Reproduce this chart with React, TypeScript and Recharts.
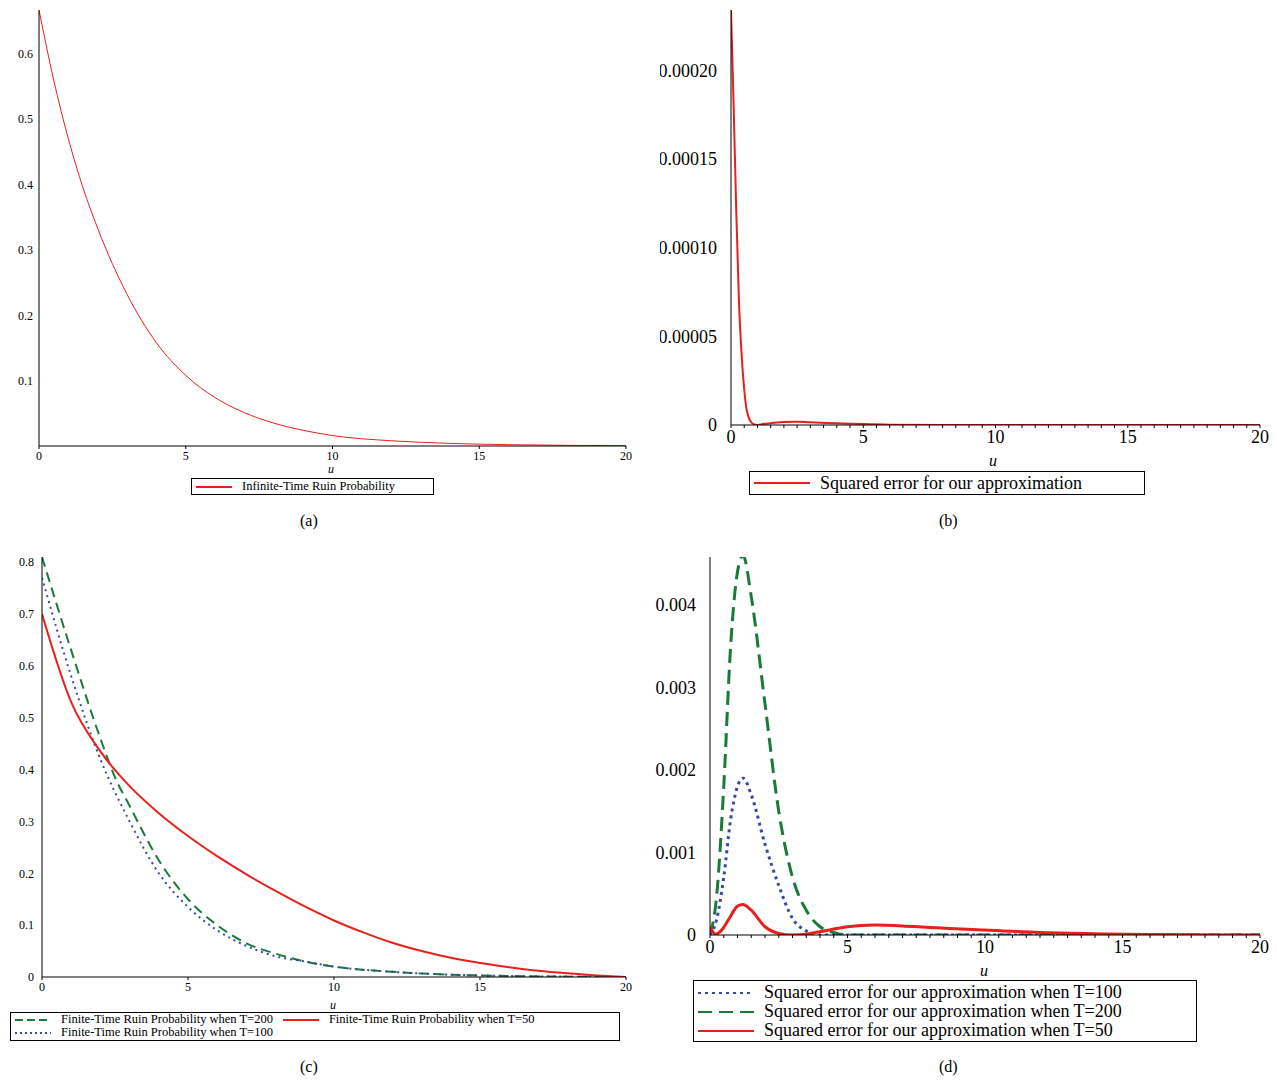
import React from 'react';
import { LineChart, Line, XAxis, YAxis } from 'recharts';

const aU = [0, 0.5, 1, 1.5, 2, 3, 4, 5, 6, 7, 8, 9, 10, 12, 14, 16, 18, 20];
const aV = [0.667, 0.56, 0.47, 0.395, 0.333, 0.232, 0.158, 0.108, 0.074, 0.051, 0.035, 0.024, 0.016, 0.008, 0.004, 0.002, 0.001, 0.0005];

const bU = [0, 0.1, 0.2, 0.3, 0.4, 0.5, 0.6, 0.8, 1.0, 1.2, 1.5, 2, 2.5, 3, 4, 5, 6, 8, 10, 20];
const bV = [0.000234, 0.00018, 0.00012, 0.00007, 0.00004, 0.00002, 0.000008, 0.000001, 0, 0.0000005, 0.000001, 0.0000017, 0.0000018, 0.0000015, 0.000001, 0.0000005, 0.0000002, 0.00000005, 0, 0];

const cU200 = [0, 1, 2, 2.5, 3, 4, 5, 6, 7, 8, 9, 10, 12, 15, 20];
const cV200 = [0.81, 0.63, 0.46, 0.385, 0.33, 0.225, 0.15, 0.1, 0.065, 0.045, 0.03, 0.02, 0.01, 0.003, 0];
const cU100 = [0, 1, 2, 3, 4, 5, 6, 7, 8, 9, 10, 12, 15, 20];
const cV100 = [0.77, 0.58, 0.42, 0.3, 0.2, 0.135, 0.09, 0.06, 0.04, 0.03, 0.02, 0.01, 0.003, 0];
const cU50 = [0, 1, 2, 3, 4, 5, 6, 7, 8, 9, 10, 11, 12, 13, 14, 15, 16, 17, 18, 19, 20];
const cV50 = [0.70, 0.53, 0.435, 0.368, 0.316, 0.272, 0.233, 0.198, 0.166, 0.136, 0.109, 0.086, 0.066, 0.05, 0.037, 0.027, 0.019, 0.012, 0.007, 0.003, 0];

const dU200 = [0, 0.25, 0.5, 0.75, 1, 1.2, 1.5, 2, 2.5, 3, 3.5, 4, 4.5, 5, 20];
const dV200 = [0, 0.0005, 0.0018, 0.0035, 0.0044, 0.0046, 0.0041, 0.0028, 0.0015, 0.0007, 0.0003, 0.0001, 0.00003, 0, 0];
const dU100 = [0, 0.25, 0.5, 0.75, 1, 1.2, 1.5, 2, 2.5, 3, 3.5, 4, 20];
const dV100 = [0, 0.0002, 0.0007, 0.0014, 0.0018, 0.0019, 0.0017, 0.0011, 0.0006, 0.0002, 0.00005, 0, 0];
const dU50 = [0, 0.2, 0.4, 0.7, 1, 1.2, 1.5, 2, 2.5, 3, 3.5, 4, 5, 6, 7, 8, 10, 12, 14, 16, 20];
const dV50 = [0.0001, 0.00001, 0.00005, 0.0002, 0.00035, 0.00037, 0.0003, 0.0001, 0.00002, 0, 0.00001, 0.00004, 0.0001, 0.00012, 0.00011, 0.00009, 0.00006, 0.00003, 0.000015, 0.000005, 0];

const xTicks = [0, 5, 10, 15, 20];
const minorX = Array.from({ length: 41 }, (_, i) => i * 0.5);

const zip = (u: number[], v: number[]) => u.map((x, i) => ({ u: x, v: v[i] }));
const serif = '"Liberation Serif", "DejaVu Serif", serif';

const abs = (l: number, t: number): React.CSSProperties => ({ position: 'absolute', left: l, top: t });

function LegendRow({ color, dash, text, w }: { color: string; dash?: string; text: string; w: number }) {
  return (
    <div style={{ display: 'flex', alignItems: 'center', whiteSpace: 'nowrap' }}>
      <svg width={w} height={10} style={{ marginRight: 8 }}>
        <line x1={2} y1={5} x2={w - 2} y2={5} stroke={color} strokeWidth={2} strokeDasharray={dash} />
      </svg>
      {text}
    </div>
  );
}

export default function App() {
  const tickSmall = { fontSize: 12, fontFamily: serif, fill: '#000' };
  const tickBig = { fontSize: 18, fontFamily: serif, fill: '#000' };
  const st = { fontFamily: serif };
  return (
    <div style={{ position: 'absolute', left: 0, top: 0, width: 1277, height: 1081, background: '#fff', fontFamily: serif }}>
      {/* (a) */}
      <div style={abs(0, 0)}>
        <LineChart style={st} width={640} height={470} margin={{ top: 10, right: 14, left: 0, bottom: 0 }}>
          <XAxis type="number" dataKey="u" domain={[0, 20]} ticks={xTicks} height={24} tick={tickSmall} stroke="#000" tickSize={3} allowDataOverflow />
          <YAxis type="number" domain={[0, 0.667]} ticks={[0.1, 0.2, 0.3, 0.4, 0.5, 0.6]} width={39} tick={tickSmall} stroke="#000" tickSize={0} tickMargin={6} allowDataOverflow />
          <Line data={zip(aU, aV)} dataKey="v" type="monotone" stroke="#e8201c" strokeWidth={1} dot={false} isAnimationActive={false} />
        </LineChart>
      </div>
      <div style={{ ...abs(328, 462), fontSize: 12, fontStyle: 'italic' }}>u</div>
      <div style={{ ...abs(191, 478), width: 239, height: 15, border: '1px solid #000', fontSize: 12.5, display: 'flex', alignItems: 'center', paddingLeft: 2 }}>
        <LegendRow color="#e8201c" text="Infinite-Time Ruin Probability" w={40} />
      </div>
      <div style={{ ...abs(300, 512), fontSize: 16 }}>(a)</div>

      {/* (b) */}
      <div style={abs(660, 0)}>
        <LineChart style={st} width={617} height={450} margin={{ top: 10, right: 17, left: 0, bottom: 0 }}>
          <XAxis type="number" dataKey="u" domain={[0, 20]} ticks={minorX} tickFormatter={(v: number) => (v % 5 === 0 ? String(v) : '')} height={25} tick={tickBig} stroke="#000" tickSize={3} interval={0} allowDataOverflow />
          <YAxis type="number" domain={[0, 0.000234]} ticks={[0, 0.00005, 0.0001, 0.00015, 0.0002]} tickFormatter={(v: number) => (v === 0 ? '0' : v.toFixed(5))} width={71} tick={tickBig} stroke="#000" tickSize={0} tickMargin={14} allowDataOverflow />
          <Line data={zip(bU, bV)} dataKey="v" type="monotone" stroke="#e8201c" strokeWidth={2} dot={false} isAnimationActive={false} />
        </LineChart>
      </div>
      <div style={{ ...abs(989, 452), fontSize: 16, fontStyle: 'italic' }}>u</div>
      <div style={{ ...abs(749, 471), width: 392, height: 22, border: '1px solid #000', fontSize: 18, display: 'flex', alignItems: 'center', paddingLeft: 2 }}>
        <LegendRow color="#e8201c" text="Squared error for our approximation" w={60} />
      </div>
      <div style={{ ...abs(939, 512), fontSize: 16 }}>(b)</div>

      {/* (c) */}
      <div style={abs(0, 540)}>
        <LineChart style={st} width={640} height={460} margin={{ top: 17, right: 14, left: 0, bottom: 0 }}>
          <XAxis type="number" dataKey="u" domain={[0, 20]} ticks={xTicks} height={23} tick={tickSmall} stroke="#000" tickSize={3} allowDataOverflow />
          <YAxis type="number" domain={[0, 0.81]} ticks={[0, 0.1, 0.2, 0.3, 0.4, 0.5, 0.6, 0.7, 0.8]} width={42} tick={tickSmall} stroke="#000" tickSize={0} tickMargin={8} allowDataOverflow />
          <Line data={zip(cU200, cV200)} dataKey="v" type="monotone" stroke="#1a7a3c" strokeWidth={2} strokeDasharray="10 6" dot={false} isAnimationActive={false} />
          <Line data={zip(cU100, cV100)} dataKey="v" type="monotone" stroke="#3b4a9c" strokeWidth={2} strokeDasharray="2 4" dot={false} isAnimationActive={false} />
          <Line data={zip(cU50, cV50)} dataKey="v" type="monotone" stroke="#e8201c" strokeWidth={2} dot={false} isAnimationActive={false} />
        </LineChart>
      </div>
      <div style={{ ...abs(330, 998), fontSize: 12, fontStyle: 'italic' }}>u</div>
      <div style={{ ...abs(10, 1012), width: 606, height: 27, border: '1px solid #000', fontSize: 12.5, lineHeight: '13px', paddingLeft: 2 }}>
        <div style={{ display: 'flex' }}>
          <LegendRow color="#1a7a3c" dash="8 4" text="Finite-Time Ruin Probability when T=200" w={40} />
          <div style={{ width: 8 }} />
          <LegendRow color="#e8201c" text="Finite-Time Ruin Probability when T=50" w={40} />
        </div>
        <LegendRow color="#3b4a9c" dash="2 3" text="Finite-Time Ruin Probability when T=100" w={40} />
      </div>
      <div style={{ ...abs(300, 1058), fontSize: 16 }}>(c)</div>

      {/* (d) */}
      <div style={abs(640, 540)}>
        <LineChart style={st} width={637} height={420} margin={{ top: 17, right: 17, left: 0, bottom: 0 }}>
          <XAxis type="number" dataKey="u" domain={[0, 20]} ticks={minorX} tickFormatter={(v: number) => (v % 5 === 0 ? String(v) : '')} height={25} tick={tickBig} stroke="#000" tickSize={3} interval={0} allowDataOverflow />
          <YAxis type="number" domain={[0, 0.00458]} ticks={[0, 0.001, 0.002, 0.003, 0.004]} tickFormatter={(v: number) => (v === 0 ? '0' : v.toFixed(3))} width={70} tick={tickBig} stroke="#000" tickSize={0} tickMargin={14} allowDataOverflow />
          <Line data={zip(dU200, dV200)} dataKey="v" type="monotone" stroke="#1a7a3c" strokeWidth={3} strokeDasharray="14 7" dot={false} isAnimationActive={false} />
          <Line data={zip(dU100, dV100)} dataKey="v" type="monotone" stroke="#3b4a9c" strokeWidth={3} strokeDasharray="3 4" dot={false} isAnimationActive={false} />
          <Line data={zip(dU50, dV50)} dataKey="v" type="monotone" stroke="#e8201c" strokeWidth={3} dot={false} isAnimationActive={false} />
        </LineChart>
      </div>
      <div style={{ ...abs(980, 962), fontSize: 16, fontStyle: 'italic' }}>u</div>
      <div style={{ ...abs(693, 980), width: 504, height: 62, border: '1px solid #000', fontSize: 18, lineHeight: '19px', paddingLeft: 2, paddingTop: 2, boxSizing: 'border-box' }}>
        <LegendRow color="#3b4a9c" dash="3 4" text="Squared error for our approximation when T=100" w={60} />
        <LegendRow color="#1a7a3c" dash="14 7" text="Squared error for our approximation when T=200" w={60} />
        <LegendRow color="#e8201c" text="Squared error for our approximation when T=50" w={60} />
      </div>
      <div style={{ ...abs(939, 1058), fontSize: 16 }}>(d)</div>
    </div>
  );
}
